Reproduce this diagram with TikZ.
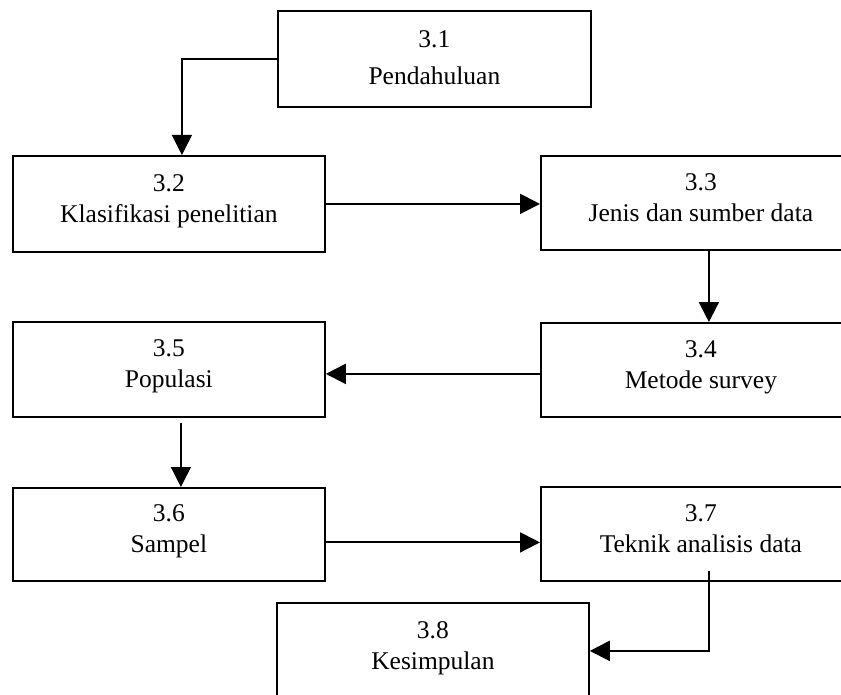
\documentclass[tikz,border=0pt]{standalone}
\usepackage{fontspec}
\setmainfont{Liberation Serif}
\usetikzlibrary{arrows.meta,calc}
\begin{document}
\begin{tikzpicture}[x=1pt,y=-1pt,
  box/.style={draw=black, line width=1.8pt, rectangle, anchor=north west, inner sep=0pt, align=center, text depth=11pt, font=\fontsize{25.5}{31}\selectfont},
  conn/.style={line width=2pt, -{Triangle[length=20pt,width=20pt]}},
  thinconn/.style={conn, line width=1.3pt}]
\useasboundingbox[fill=white] (0,0) rectangle (841,695);
\node[box, minimum width=313pt, minimum height=96pt, text depth=2pt] (b1) at (277,10) {3.1\\[6pt]Pendahuluan};
\node[box, minimum width=312pt, minimum height=96pt] (b2) at (12,155) {3.2\\Klasifikasi penelitian};
\node[box, minimum width=320pt, minimum height=94pt] (b3) at (540,155) {3.3\\Jenis dan sumber data};
\node[box, minimum width=320pt, minimum height=94pt] (b4) at (540,322) {3.4\\Metode survey};
\node[box, minimum width=312pt, minimum height=95pt] (b5) at (12,321) {3.5\\Populasi};
\node[box, minimum width=312pt, minimum height=93pt] (b6) at (12,487) {3.6\\Sampel};
\node[box, minimum width=320pt, minimum height=94pt] (b7) at (540,486) {3.7\\Teknik analisis data};
\node[box, minimum width=312pt, minimum height=96pt] (b8) at (276,602) {3.8\\Kesimpulan};
\draw[thinconn] (b1.west) -| ([xshift=13pt]b2.north);
\draw[conn] (b2.east) -- (b2.east -| b3.west);
\draw[conn] ([xshift=8pt]b3.south) -- ([xshift=8pt]b4.north);
\draw[conn] ([yshift=-4pt]b4.west) -- ([yshift=-4pt]b4.west -| b5.east);
\draw[thinconn] ([xshift=12pt,yshift=-5pt]b5.south) -- ([xshift=12pt]b6.north);
\draw[conn] ([yshift=-8pt]b6.east) -- ([yshift=-8pt]b6.east -| b7.west);
\draw[conn] ([xshift=8pt,yshift=11pt]b7.south) |- (b8.east);
\end{tikzpicture}
\end{document}
